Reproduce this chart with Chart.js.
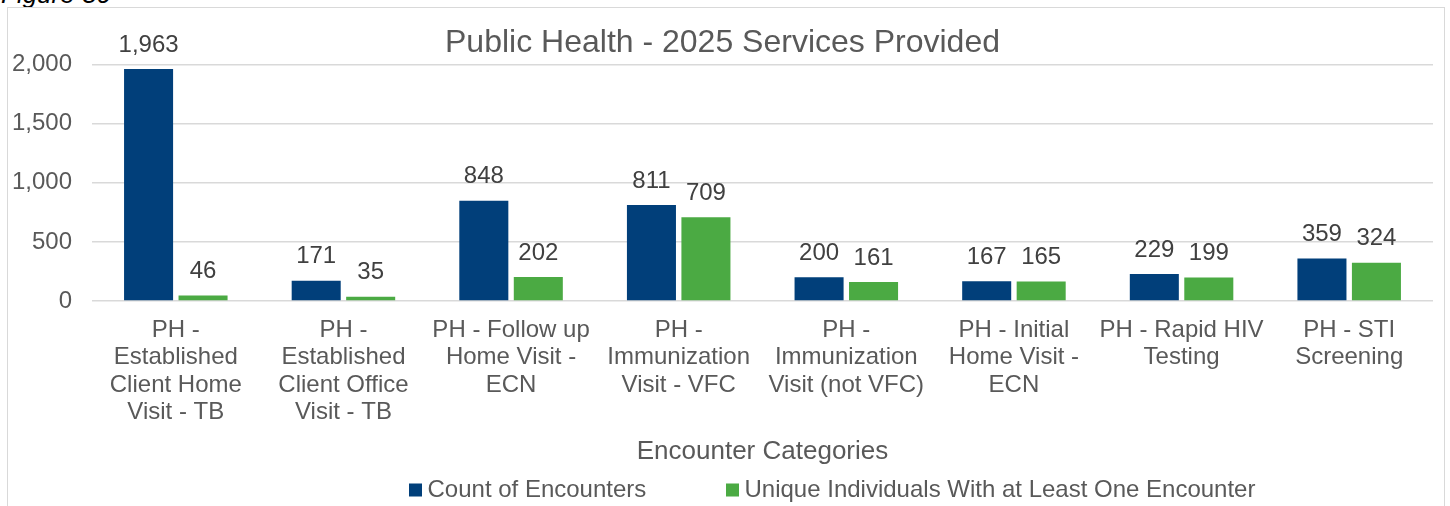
<!DOCTYPE html>
<html>
<head>
<meta charset="utf-8">
<script src="https://cdn.jsdelivr.net/npm/chart.js@4.4.0/dist/chart.umd.min.js"></script>
<style>
  html, body { margin: 0; padding: 0; background: #fff; overflow: hidden; }
  #wrap { position: relative; width: 1450px; height: 506px; }
  #frame { position: absolute; left: 7px; top: 7px; width: 1438px; height: 505px; border: 1px solid #d9d9d9; box-sizing: border-box; }
  #fig { position: absolute; left: 1px; top: -19px; font: italic 26px/26px "Liberation Sans", Arial, sans-serif; color: #000; }
  canvas { position: absolute; left: 0; top: 0; }
</style>
</head>
<body>
<div id="wrap">
  <div id="fig">Figure 30</div>
  <div id="frame"></div>
  <canvas id="servicesChart" width="1450" height="506"></canvas>
</div>
<script>
// chart data
var categories = [
    ['PH -', 'Established', 'Client Home', 'Visit - TB'],
    ['PH -', 'Established', 'Client Office', 'Visit - TB'],
    ['PH - Follow up', 'Home Visit -', 'ECN'],
    ['PH -', 'Immunization', 'Visit - VFC'],
    ['PH -', 'Immunization', 'Visit (not VFC)'],
    ['PH - Initial', 'Home Visit -', 'ECN'],
    ['PH - Rapid HIV', 'Testing'],
    ['PH - STI', 'Screening']
];
var encounterCounts = [1963, 171, 848, 811, 200, 167, 229, 359];
var uniqueIndividuals = [46, 35, 202, 709, 161, 165, 199, 324];
var yTicks = [0, 500, 1000, 1500, 2000];

var FONT = '"Liberation Sans", Arial, sans-serif';
var GREY = '#595959';

// value labels above the bars
var barLabels = {
    id: 'barLabels',
    afterDatasetsDraw: function(chart) {
        var ctx = chart.ctx;
        ctx.save();
        ctx.font = '24px ' + FONT;
        ctx.fillStyle = '#404040';
        ctx.textAlign = 'center';
        ctx.textBaseline = 'middle';
        chart.data.datasets.forEach(function(ds, i) {
            chart.getDatasetMeta(i).data.forEach(function(bar, j) {
                ctx.fillText(ds.data[j].toLocaleString('en-US'), bar.x, bar.y - 24);
            });
        });
        ctx.restore();
    }
};

// Excel style legend (equal width columns, centred on the frame)
var bottomLegend = {
    id: 'bottomLegend',
    afterDraw: function(chart) {
        var ctx = chart.ctx;
        var colW = 317;
        var x = chart.width / 2 - colW * chart.data.datasets.length / 2 + 1;
        var y = 490.5;
        ctx.save();
        ctx.font = '24px ' + FONT;
        ctx.textBaseline = 'middle';
        ctx.textAlign = 'left';
        chart.data.datasets.forEach(function(ds) {
            ctx.fillStyle = ds.backgroundColor;
            ctx.fillRect(x, y - 7, 13, 13);
            ctx.fillStyle = GREY;
            ctx.fillText(ds.label, x + 18.5, y);
            x += colW;
        });
        ctx.restore();
    }
};

var servicesChart = new Chart(document.getElementById('servicesChart'), {
    type: 'bar',
    data: {
        labels: categories,
        datasets: [{
            label: 'Count of Encounters',
            data: encounterCounts,
            backgroundColor: '#013F7A',
            categoryPercentage: 0.65,
            barPercentage: 0.9
        },
        {
            label: 'Unique Individuals With at Least One Encounter',
            data: uniqueIndividuals,
            backgroundColor: '#4BAA43',
            categoryPercentage: 0.65,
            barPercentage: 0.9
        }]
    },
    options: {
        responsive: false,
        animation: false,
        layout: {
            padding: { top: 0, left: 12, right: 17, bottom: 38.9 }
        },
        plugins: {
            legend: { display: false },
            tooltip: { enabled: false },
            title: {
                display: true,
                text: 'Public Health - 2025 Services Provided',
                color: GREY,
                font: { family: FONT, size: 32, weight: 'normal', lineHeight: 1.2 },
                padding: { top: 23.6, bottom: 2.5 }
            }
        },
        scales: {
            x: {
                grid: { display: false, drawTicks: false },
                border: { display: false },
                ticks: {
                    color: GREY,
                    font: { family: FONT, size: 24, lineHeight: 1.146 },
                    padding: 15.3,
                    autoSkip: false,
                    maxRotation: 0
                },
                title: {
                    display: true,
                    text: 'Encounter Categories',
                    color: GREY,
                    font: { family: FONT, size: 26, lineHeight: 1.2 },
                    padding: { top: 9.6, bottom: 0 }
                },
                afterFit: function(s) {
                    s.paddingLeft = 0;
                    s.paddingRight = 0;
                    s.height = 166.1;
                }
            },
            y: {
                min: yTicks[0],
                max: yTicks[yTicks.length - 1],
                afterBuildTicks: function(axis) {
                    axis.ticks = yTicks.map(function(v) { return { value: v }; });
                },
                grid: { color: '#d9d9d9', lineWidth: 1.5, drawTicks: false },
                border: { display: false },
                ticks: {
                    color: GREY,
                    font: { family: FONT, size: 24 },
                    padding: 20,
                    callback: function(v) { return v.toLocaleString('en-US'); }
                },
                afterFit: function(s) {
                    s.paddingTop = 0;
                    s.paddingBottom = 0;
                    s.width = 80;
                }
            }
        }
    },
    plugins: [barLabels, bottomLegend]
});
</script>
</body>
</html>
